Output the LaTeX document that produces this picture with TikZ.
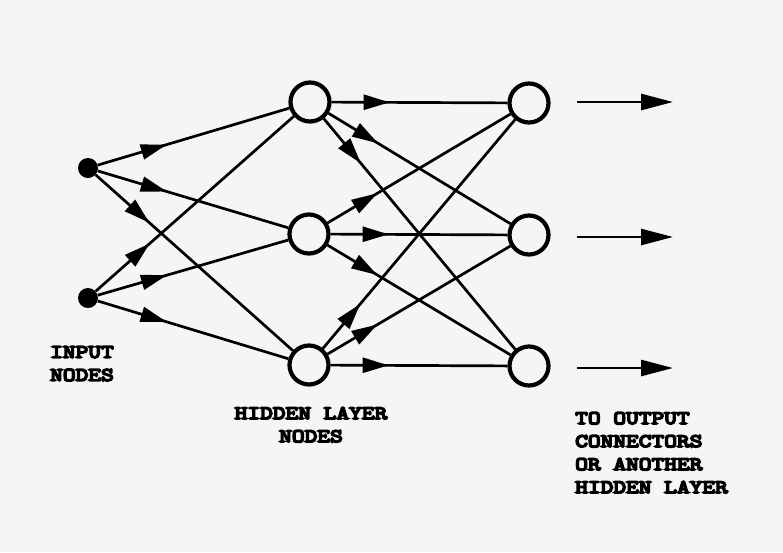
\documentclass[tikz,border=0pt]{standalone}
\usepackage{fontspec}
\newfontfamily\lblfont{Latin Modern Mono}[FakeBold=9,FakeStretch=1.3]
\usetikzlibrary{arrows.meta,decorations.markings}
\tikzset{
  inp/.style={circle,fill=black,inner sep=0pt,minimum size=20pt},
  hid/.style={circle,draw=black,line width=4.2pt,fill=none,inner sep=0pt,minimum size=39pt},
  edge/.style={line width=2.7pt,postaction={decorate},
    decoration={markings,mark=at position #1 with {\arrow{Triangle[length=26pt,width=15pt]}}}},
  freearrow/.style={line width=2.7pt,-{Triangle[length=32pt,width=16pt]}},
  lbl/.style={font=\lblfont\fontsize{19}{23}\selectfont,inner sep=0pt,align=left},
}
\begin{document}
\begin{tikzpicture}[x=1pt,y=-1pt]
\fill[gray!8] (0,0) rectangle (783,552);
\useasboundingbox (0,0) rectangle (783,552);
\node[inp] (i1) at (88,168) {};
\node[inp] (i2) at (88,298) {};
\node[hid] (h1) at (310,102) {};
\node[hid] (h2) at (309,234) {};
\node[hid] (h3) at (309,365) {};
\node[hid] (o1) at (529,103) {};
\node[hid] (o2) at (529,235) {};
\node[hid] (o3) at (529,366) {};
\foreach \a in {i1,i2}{
  \foreach \b in {h1,h2,h3}{
    \draw[edge=72pt] (\a) -- (\b);
  }
}
\foreach \a in {h1,h2,h3}{
  \foreach \b in {o1,o2,o3}{
    \draw[edge=58pt] (\a) -- (\b);
  }
}
\coordinate (s1) at (577,102);
\coordinate (e1) at (673,102);
\coordinate (s2) at (577,237);
\coordinate (e2) at (673,237);
\coordinate (s3) at (577,368);
\coordinate (e3) at (673,368);
\draw[freearrow] (s1) -- (e1);
\draw[freearrow] (s2) -- (e2);
\draw[freearrow] (s3) -- (e3);
\node[lbl,anchor=north west] (tin) at (50,346) {INPUT\\NODES};
\node[lbl,anchor=north,align=center] (thid) at (311,407) {HIDDEN LAYER\\NODES};
\node[lbl,anchor=north west] (tout) at (575,412) {TO OUTPUT\\CONNECTORS\\OR ANOTHER\\HIDDEN LAYER};
\end{tikzpicture}
\end{document}
